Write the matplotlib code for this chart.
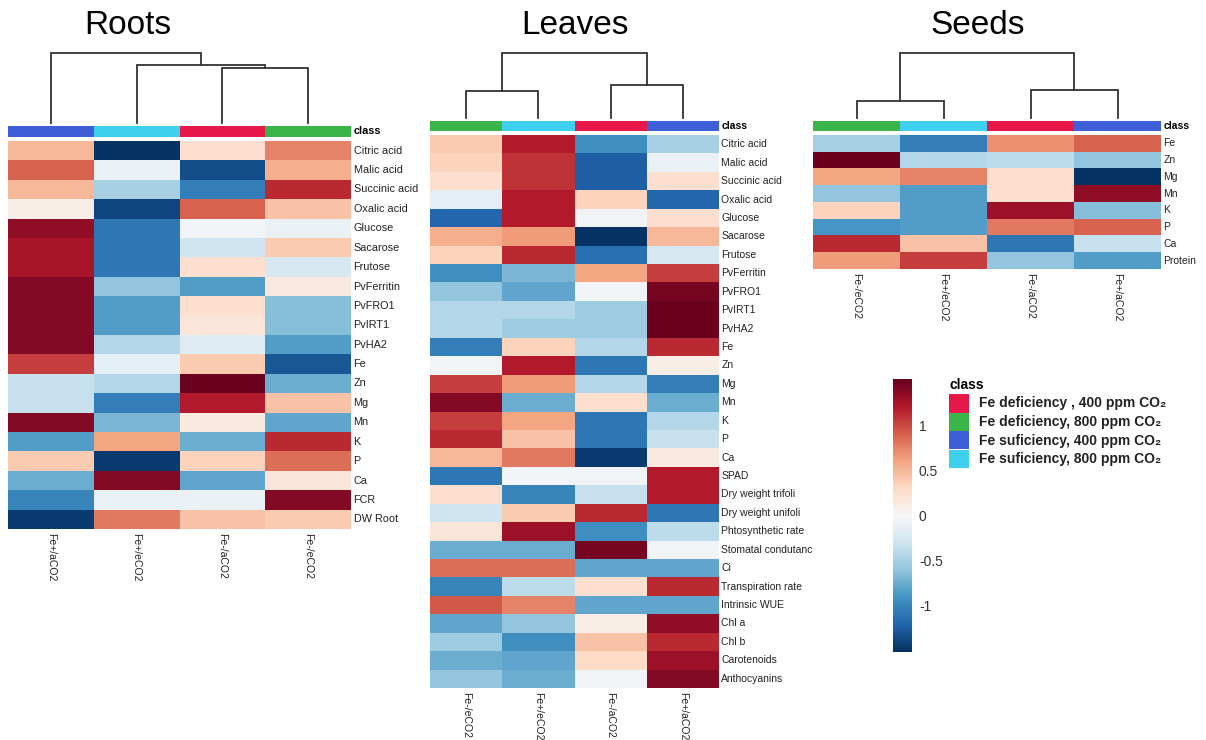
import numpy as np
import matplotlib
matplotlib.use("Agg")
import matplotlib.pyplot as plt
from matplotlib.patches import Rectangle

plt.rcParams['font.family'] = ['Liberation Sans', 'DejaVu Sans']

# ---------------- data ----------------
# class colours
class_names = ["Fe deficiency , 400 ppm CO₂", "Fe deficiency, 800 ppm CO₂",
               "Fe suficiency, 400 ppm CO₂", "Fe suficiency, 800 ppm CO₂"]
class_colors = ["#E8174A", "#3BB44A", "#3F5FD8", "#3ED0EE"]
# treatment -> class index
treat_class = {"Fe-/aCO2": 0, "Fe-/eCO2": 1, "Fe+/aCO2": 2, "Fe+/eCO2": 3}

# Roots
roots_cols = ["Fe+/aCO2", "Fe+/eCO2", "Fe-/aCO2", "Fe-/eCO2"]
roots_rows = ["Citric acid", "Malic acid", "Succinic acid", "Oxalic acid", "Glucose",
              "Sacarose", "Frutose", "PvFerritin", "PvFRO1", "PvIRT1", "PvHA2", "Fe",
              "Zn", "Mg", "Mn", "K", "P", "Ca", "FCR", "DW Root"]
roots_vals = [
    [0.50, -1.50, 0.25, 0.75],
    [0.90, -0.10, -1.35, 0.55],
    [0.50, -0.50, -1.05, 1.15],
    [0.10, -1.40, 0.90, 0.45],
    [1.35, -1.10, -0.05, -0.10],
    [1.25, -1.10, -0.30, 0.40],
    [1.25, -1.10, 0.25, -0.25],
    [1.40, -0.60, -0.85, 0.15],
    [1.40, -0.85, 0.25, -0.65],
    [1.40, -0.85, 0.20, -0.65],
    [1.40, -0.45, -0.20, -0.85],
    [1.05, -0.15, 0.40, -1.30],
    [-0.35, -0.45, 1.50, -0.75],
    [-0.35, -1.05, 1.20, 0.45],
    [1.40, -0.70, 0.15, -0.80],
    [-0.85, 0.60, -0.75, 1.15],
    [0.40, -1.45, 0.35, 0.85],
    [-0.75, 1.40, -0.80, 0.20],
    [-1.00, -0.10, -0.10, 1.40],
    [-1.45, 0.80, 0.45, 0.40],
]
# merges (left, right, height); leaves 0..3, new clusters numbered from 4
roots_merges = [(2, 3, 5.7), (1, 4, 6.0), (0, 5, 7.3)]

# Leaves
leaves_cols = ["Fe-/eCO2", "Fe+/eCO2", "Fe-/aCO2", "Fe+/aCO2"]
leaves_rows = ["Citric acid", "Malic acid", "Succinic acid", "Oxalic acid", "Glucose",
               "Sacarose", "Frutose", "PvFerritin", "PvFRO1", "PvIRT1", "PvHA2", "Fe",
               "Zn", "Mg", "Mn", "K", "P", "Ca", "SPAD", "Dry weight trifoli",
               "Dry weight unifoli", "Phtosynthetic rate", "Stomatal condutanc", "Ci",
               "Transpiration rate", "Intrinsic WUE", "Chl a", "Chl b", "Carotenoids",
               "Anthocyanins"]
leaves_vals = [
    [0.40, 1.20, -0.95, -0.50],
    [0.35, 1.10, -1.25, -0.10],
    [0.25, 1.10, -1.25, 0.25],
    [-0.15, 1.20, 0.35, -1.20],
    [-1.20, 1.20, -0.05, 0.25],
    [0.55, 0.65, -1.50, 0.50],
    [0.35, 1.15, -1.15, -0.25],
    [-0.95, -0.70, 0.60, 1.05],
    [-0.60, -0.80, -0.05, 1.45],
    [-0.45, -0.45, -0.55, 1.50],
    [-0.45, -0.55, -0.55, 1.50],
    [-1.05, 0.35, -0.45, 1.15],
    [-0.05, 1.20, -1.10, 0.10],
    [1.05, 0.65, -0.45, -1.05],
    [1.40, -0.75, 0.25, -0.75],
    [1.05, 0.60, -1.10, -0.45],
    [1.15, 0.45, -1.10, -0.35],
    [0.50, 0.80, -1.45, 0.15],
    [-1.10, -0.05, -0.05, 1.20],
    [0.25, -1.00, -0.35, 1.20],
    [-0.30, 0.40, 1.15, -1.10],
    [0.20, 1.30, -0.95, -0.40],
    [-0.75, -0.75, 1.45, -0.05],
    [0.85, 0.85, -0.80, -0.80],
    [-1.00, -0.40, 0.25, 1.15],
    [0.95, 0.75, -0.80, -0.80],
    [-0.80, -0.60, 0.10, 1.35],
    [-0.55, -0.95, 0.45, 1.15],
    [-0.75, -0.80, 0.30, 1.30],
    [-0.60, -0.75, -0.05, 1.40],
]
leaves_merges = [(0, 1, 2.8), (2, 3, 3.5), (4, 5, 6.8)]

# Seeds
seeds_cols = ["Fe-/eCO2", "Fe+/eCO2", "Fe-/aCO2", "Fe+/aCO2"]
seeds_rows = ["Fe", "Zn", "Mg", "Mn", "K", "P", "Ca", "Protein"]
seeds_vals = [
    [-0.50, -1.05, 0.70, 0.90],
    [1.50, -0.45, -0.40, -0.60],
    [0.60, 0.75, 0.25, -1.50],
    [-0.60, -0.85, 0.25, 1.35],
    [0.35, -0.85, 1.30, -0.65],
    [-0.90, -0.85, 0.80, 0.90],
    [1.15, 0.45, -1.10, -0.35],
    [0.65, 1.05, -0.60, -0.85],
]
seeds_merges = [(0, 1, 1.8), (2, 3, 2.9), (4, 5, 6.8)]

cbar_ticks = [-1, -0.5, 0, 0.5, 1]
vmin, vmax = -1.52, 1.52
cmap = plt.get_cmap("RdBu_r")

# ---------------- figure ----------------
W, H = 1206, 740
fig = plt.figure(figsize=(W / 100, H / 100), dpi=100)


def ax_px(x0, y0, x1, y1):
    ax = fig.add_axes([x0 / W, 1 - y1 / H, (x1 - x0) / W, (y1 - y0) / H])
    ax.set_axis_off()
    return ax


def draw_dendro(ax, merges, n):
    pos = {i: i + 0.5 for i in range(n)}
    hgt = {i: 0.0 for i in range(n)}
    k = n
    for a, b, h in merges:
        xa, xb = pos[a], pos[b]
        ax.plot([xa, xa, xb, xb], [hgt[a], h, h, hgt[b]], color="#333333", lw=1.3,
                solid_joinstyle="miter", clip_on=False)
        pos[k] = (xa + xb) / 2
        hgt[k] = h
        k += 1
    ax.set_xlim(0, n)
    ax.set_ylim(0, merges[-1][2])


def panel(title, cols, rows, vals, merges, x0, x1, y_dend, y_cls, y_hm, title_x, fs=7.5):
    n = len(cols)
    # dendrogram
    axd = ax_px(x0, y_dend[0], x1, y_dend[1])
    draw_dendro(axd, merges, n)
    # class bar
    axc = ax_px(x0, y_cls[0], x1, y_cls[1])
    for i, c in enumerate(cols):
        axc.add_patch(Rectangle((i, 0), 1, 1, color=class_colors[treat_class[c]], lw=0))
    axc.set_xlim(0, n)
    axc.set_ylim(0, 1)
    axc.text(n + 0.03, 0.5, "class", fontsize=fs, fontweight="bold", va="center", ha="left")
    # heatmap
    axh = ax_px(x0, y_hm[0], x1, y_hm[1])
    data = np.array(vals)
    axh.pcolormesh(np.arange(n + 1), np.arange(len(rows) + 1), data, cmap=cmap,
                   vmin=vmin, vmax=vmax, shading="flat")
    axh.set_xlim(0, n)
    axh.set_ylim(len(rows), 0)
    for j, r in enumerate(rows):
        axh.text(n + 0.03, j + 0.5, r, fontsize=fs, va="center", ha="left", color="#222222")
    row_px = (y_hm[1] - y_hm[0]) / len(rows)
    for i, c in enumerate(cols):
        axh.text(i + 0.5, len(rows) + 4 / row_px, c,
                 fontsize=7.5, rotation=270, va="top", ha="center", color="#222222")
    fig.text(title_x / W, 1 - 25 / H, title, fontsize=24, ha="center", va="center")


panel("Roots", roots_cols, roots_rows, roots_vals, roots_merges,
      8, 351, (53, 123), (126, 137), (141, 529), 128, fs=7.8)
panel("Leaves", leaves_cols, leaves_rows, leaves_vals, leaves_merges,
      430, 719, (53, 118), (121, 131), (135, 688), 575)
panel("Seeds", seeds_cols, seeds_rows, seeds_vals, seeds_merges,
      813, 1161, (53, 118), (121, 131), (135, 269), 978)

# colorbar
axcb = fig.add_axes([893 / W, 1 - 652 / H, 19 / W, 273 / H])
grad = np.linspace(vmin, vmax, 256).reshape(-1, 1)
axcb.imshow(grad, aspect="auto", cmap=cmap, vmin=vmin, vmax=vmax, origin="lower",
            extent=[0, 1, vmin, vmax])
axcb.set_xticks([])
axcb.set_yticks(cbar_ticks)
axcb.set_yticklabels([f"{t:g}" for t in cbar_ticks], fontsize=10, color="#333333")
axcb.tick_params(axis="y", length=0, pad=5)
axcb.yaxis.tick_right()
for s in axcb.spines.values():
    s.set_visible(False)

# legend
fig.text(949 / W, 1 - 385 / H, "class", fontsize=10, fontweight="bold", va="center", ha="left")
for k, (name, col) in enumerate(zip(class_names, class_colors)):
    ytop = 394 + 18.5 * k
    fig.patches.append(Rectangle((949 / W, 1 - (ytop + 18.5) / H), 20 / W, 18.5 / H,
                                 transform=fig.transFigure, color=col, lw=0))
    fig.text(979 / W, 1 - (ytop + 9.5) / H, name, fontsize=10, fontweight="bold",
             va="center", ha="left", color="#222222")

fig.savefig("out.png", dpi=100)
